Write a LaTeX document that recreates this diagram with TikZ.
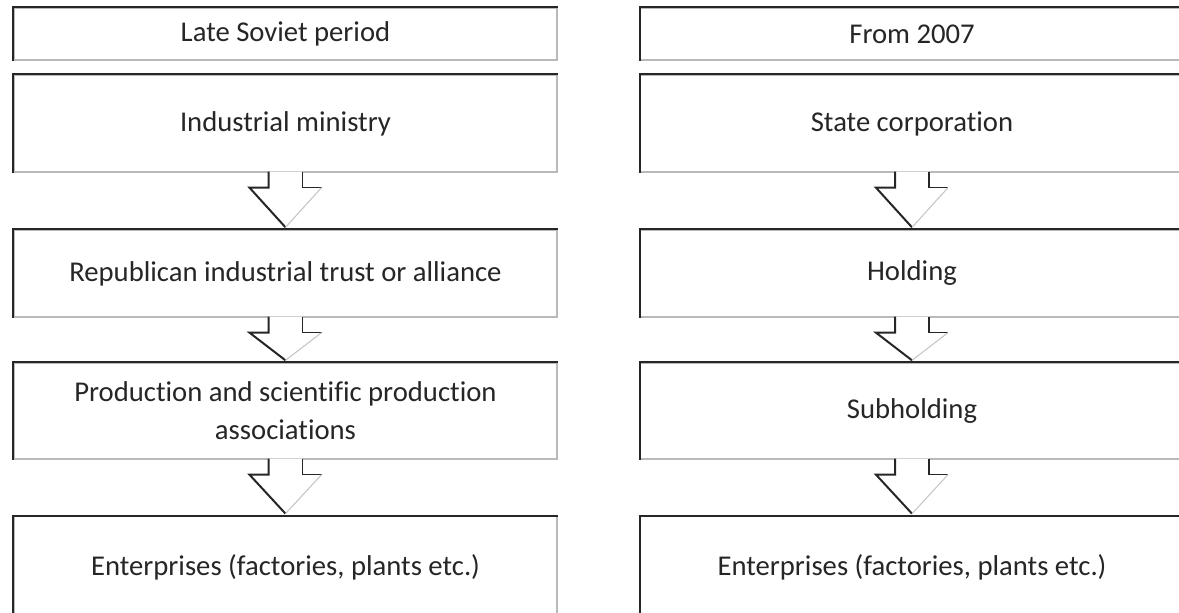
\documentclass[tikz,border=0pt]{standalone}
\usepackage{fontspec}
\setmainfont{Carlito}[Ligatures=NoCommon]
\usetikzlibrary{calc}

\tikzset{
  stage/.style={draw=gray!55, line width=1pt, fill=white, minimum width=407.25pt,
    inner sep=0pt, align=center, text=black!85,
    font=\fontsize{21.5}{28.5}\selectfont},
  bevel/.style={draw=black!85, line width=1.5pt},
  faint/.style={draw=gray!45, line width=.8pt}
}

\begin{document}
\begin{tikzpicture}[x=0.75pt,y=-0.75pt]
  \useasboundingbox (0,0) rectangle (1179,612);
  %left column
  \node[stage, minimum height=39pt]    (L1) at (285.5,34)  {Late Soviet period};
  \node[stage, minimum height=72.75pt] (L2) at (285.5,123.5) {Industrial ministry};
  \node[stage, minimum height=65.25pt] (L3) at (285.5,273.5) {Republican industrial trust or alliance};
  \node[stage, minimum height=72pt]    (L4) at (285.5,411) {Production and scientific production\\associations};
  \node[stage, minimum height=76pt]    (L5) at (285.5,567) {Enterprises (factories, plants etc.)};
  %right column
  \node[stage, minimum height=39pt]    (R1) at (912,34)  {From 2007};
  \node[stage, minimum height=72.75pt] (R2) at (912,123.5) {State corporation};
  \node[stage, minimum height=65.25pt] (R3) at (912,273.5) {Holding};
  \node[stage, minimum height=72pt]    (R4) at (912,411) {Subholding};
  \node[stage, minimum height=76pt]    (R5) at (912,567) {Enterprises (factories, plants etc.)};
  %dark top and left edges
  \foreach \n in {L1,L2,L3,L4,L5,R1,R2,R3,R4,R5}
    \draw[bevel] (\n.south west) -- (\n.north west) -- (\n.north east);
  %block arrows
  \foreach \a/\b in {L2/L3,L3/L4,L4/L5,R2/R3,R3/R4,R4/R5}{
    \coordinate (tl) at ($(\a.south)+(-17,-1)$);
    \coordinate (tr) at ($(\a.south)+(17,-1)$);
    \coordinate (bl) at ($(\a.south)+(-17,15)$);
    \coordinate (br) at ($(\a.south)+(17,15)$);
    \coordinate (hl) at ($(\a.south)+(-36,15)$);
    \coordinate (hr) at ($(\a.south)+(36,15)$);
    \coordinate (tip) at ($(\b.north)+(0,-2)$);
    \fill[white] (tl) -- (bl) -- (hl) -- (tip) -- (hr) -- (br) -- (tr) -- cycle;
    \draw[bevel] (tl) -- (bl) -- (hl) -- (tip);
    \draw[bevel, line width=1.1pt] (tr) -- (br) -- (hr);
    \draw[faint] (hr) -- (tip);
  }
\end{tikzpicture}
\end{document}
